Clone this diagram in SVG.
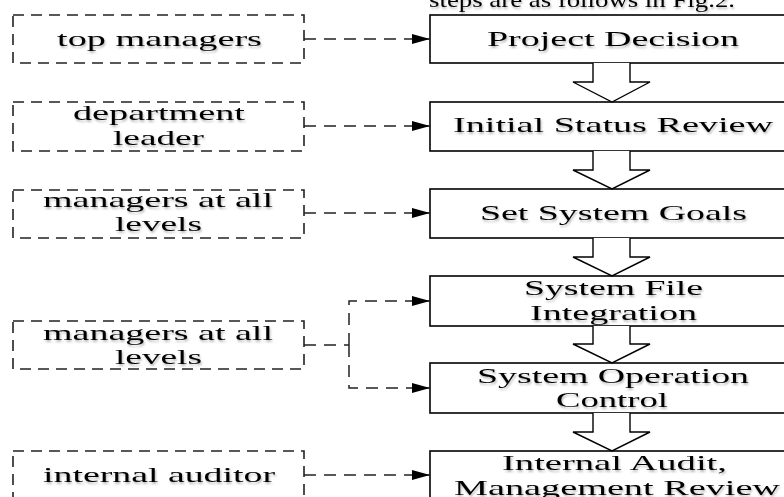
<svg xmlns="http://www.w3.org/2000/svg" width="784" height="497" viewBox="0 0 784 497">
<defs>
<filter id="sh" x="-10%" y="-30%" width="130%" height="170%">
<feDropShadow dx="1" dy="2" stdDeviation="1.2" flood-color="#000" flood-opacity="0.28"/>
</filter>
<marker id="ah" markerWidth="18" markerHeight="10" refX="18" refY="5" orient="auto" markerUnits="userSpaceOnUse">
<path d="M0,0 L18,5 L0,10 Z" fill="#000"/>
</marker>
</defs>
<style>
text{font-family:"Liberation Serif","Times New Roman",serif;font-size:22px;fill:#000;filter:url(#sh)}
.role{fill:#fff;stroke:#222;stroke-width:1.6;stroke-dasharray:11 7}
.step{fill:#fff;stroke:#000;stroke-width:1.6}
.conn{fill:none;stroke:#222;stroke-width:1.5;stroke-dasharray:12 8}
.blk{fill:#fff;stroke:#000;stroke-width:1.4}
</style>
<rect width="784" height="497" fill="#fff"/>
<text x="429" y="7" textLength="306" lengthAdjust="spacingAndGlyphs">steps are as follows in Fig.2.</text>

<g id="role-top-managers">
<rect class="role" x="13" y="15" width="291" height="48"/>
<text x="57" y="46" textLength="205" lengthAdjust="spacingAndGlyphs">top managers</text>
</g>
<g id="role-department-leader">
<rect class="role" x="13" y="102" width="291" height="49"/>
<text x="73" y="120" textLength="172" lengthAdjust="spacingAndGlyphs">department</text>
<text x="113" y="145" textLength="91" lengthAdjust="spacingAndGlyphs">leader</text>
</g>
<g id="role-managers-1">
<rect class="role" x="13" y="190" width="291" height="48"/>
<text x="43" y="207" textLength="230" lengthAdjust="spacingAndGlyphs">managers at all</text>
<text x="115" y="231" textLength="87" lengthAdjust="spacingAndGlyphs">levels</text>
</g>
<g id="role-managers-2">
<rect class="role" x="13" y="321" width="291" height="48"/>
<text x="43" y="340" textLength="230" lengthAdjust="spacingAndGlyphs">managers at all</text>
<text x="115" y="364" textLength="87" lengthAdjust="spacingAndGlyphs">levels</text>
</g>
<g id="role-internal-auditor">
<rect class="role" x="13" y="451" width="291" height="50"/>
<text x="43" y="482" textLength="232" lengthAdjust="spacingAndGlyphs">internal auditor</text>
</g>

<g id="step-project-decision">
<rect class="step" x="430" y="15" width="366" height="48"/>
<text x="487" y="46" textLength="252" lengthAdjust="spacingAndGlyphs">Project Decision</text>
</g>
<g id="step-initial-status-review">
<rect class="step" x="430" y="102" width="366" height="49"/>
<text x="453" y="132" textLength="320" lengthAdjust="spacingAndGlyphs">Initial Status Review</text>
</g>
<g id="step-set-system-goals">
<rect class="step" x="430" y="189" width="366" height="49"/>
<text x="480" y="220" textLength="267" lengthAdjust="spacingAndGlyphs">Set System Goals</text>
</g>
<g id="step-system-file-integration">
<rect class="step" x="430" y="276" width="366" height="50"/>
<text x="524" y="295" textLength="179" lengthAdjust="spacingAndGlyphs">System File</text>
<text x="530" y="320" textLength="167" lengthAdjust="spacingAndGlyphs">Integration</text>
</g>
<g id="step-system-operation-control">
<rect class="step" x="430" y="363" width="366" height="50"/>
<text x="477" y="383" textLength="272" lengthAdjust="spacingAndGlyphs">System Operation</text>
<text x="556" y="407" textLength="112" lengthAdjust="spacingAndGlyphs">Control</text>
</g>
<g id="step-internal-audit">
<rect class="step" x="430" y="451" width="366" height="50"/>
<text x="502" y="470" textLength="225" lengthAdjust="spacingAndGlyphs">Internal Audit,</text>
<text x="454" y="495" textLength="326" lengthAdjust="spacingAndGlyphs">Management Review</text>
</g>

<g id="connectors">
<path class="conn" d="M304,39 H430" marker-end="url(#ah)"/>
<path class="conn" d="M304,126 H430" marker-end="url(#ah)"/>
<path class="conn" d="M304,213 H430" marker-end="url(#ah)"/>
<path class="conn" d="M304,345 H349"/>
<path class="conn" d="M349,345 V301 H430" marker-end="url(#ah)"/>
<path class="conn" d="M349,345 V388 H430" marker-end="url(#ah)"/>
<path class="conn" d="M304,475 H430" marker-end="url(#ah)"/>
<path class="blk" d="M593,63 V82 H573 L612,102 L650,82 H630 V63"/>
<path class="blk" d="M593,151 V170 H573 L612,189 L650,170 H630 V151"/>
<path class="blk" d="M593,238 V257 H573 L612,276 L650,257 H630 V238"/>
<path class="blk" d="M593,326 V344 H573 L612,363 L650,344 H630 V326"/>
<path class="blk" d="M593,413 V432 H573 L612,451 L650,432 H630 V413"/>
</g>
</svg>
